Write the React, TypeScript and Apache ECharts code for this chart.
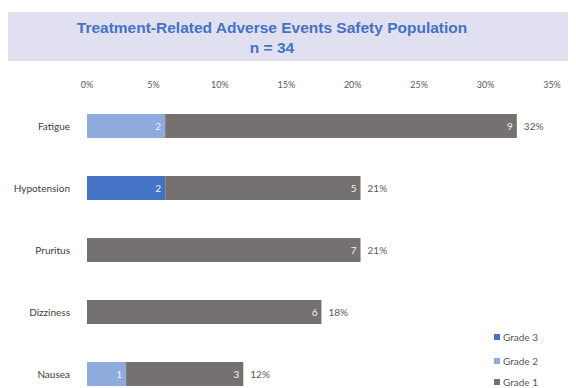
import React, { useEffect, useRef } from "react";
import * as echarts from "echarts";

const N = 34;
const categories = ["Fatigue", "Hypotension", "Pruritus", "Dizziness", "Nausea"];
const grade3Counts = [0, 2, 0, 0, 0];
const grade2Counts = [2, 0, 0, 0, 1];
const grade1Counts = [9, 5, 7, 6, 3];
const totalLabels = ["32%", "21%", "21%", "18%", "12%"];
const legendNames = ["Grade 3", "Grade 2", "Grade 1"];
const titleLines = ["Treatment-Related Adverse Events Safety Population", "n = 34"];

const pct = (c: number) => (c / N) * 100;

export default function App() {
  const ref = useRef<HTMLDivElement>(null);
  useEffect(() => {
    if (!ref.current) return;
    const chart = echarts.init(ref.current, undefined, { renderer: "svg" });
    const inner = (counts: number[]) => ({
      show: true,
      position: "insideRight",
      distance: 4,
      color: "#f2f2f2",
      fontFamily: "Lato",
      fontSize: 10,
      formatter: (p: any) => (counts[p.dataIndex] > 0 ? String(counts[p.dataIndex]) : ""),
    });
    const legendTops = [324, 348, 369];
    chart.setOption({
      animation: false,
      graphic: [
        { type: "rect", shape: { x: 0, y: 4, width: 568, height: 49 }, style: { fill: "#e1e0f1" }, silent: true },
        {
          type: "text",
          x: 264,
          y: 19,
          style: {
            text: titleLines[0],
            fill: "#4472c4",
            font: "bold 15.5px 'Liberation Sans'",
            textAlign: "center",
            textVerticalAlign: "middle",
          },
        },
        {
          type: "text",
          x: 264,
          y: 39,
          style: {
            text: titleLines[1],
            fill: "#4472c4",
            font: "bold 15.5px 'Liberation Sans'",
            textAlign: "center",
            textVerticalAlign: "middle",
          },
        },
      ],
      legend: legendNames.map((name, i) => ({
        orient: "vertical",
        left: 486,
        top: legendTops[i],
        padding: 0,
        itemWidth: 6,
        itemHeight: 6,
        icon: "rect",
        data: [name],
        textStyle: { color: "#595959", fontSize: 10, fontFamily: "Lato", padding: [0, 0, 0, -2] },
      })),
      grid: { left: 79, right: 24, top: 87, bottom: -17, outerBoundsMode: "none", containLabel: false },
      xAxis: {
        type: "value",
        position: "top",
        min: 0,
        max: 35,
        interval: 5,
        axisLine: { show: false },
        axisTick: { show: false },
        splitLine: { show: false },
        axisLabel: { formatter: "{value}%", color: "#595959", fontSize: 9, fontFamily: "Lato", margin: 6 },
      },
      yAxis: {
        type: "category",
        inverse: true,
        data: categories,
        axisLine: { show: false },
        axisTick: { show: false },
        axisLabel: { color: "#404040", fontSize: 10, fontFamily: "Lato", margin: 17 },
      },
      series: [
        {
          name: "Grade 3",
          type: "bar",
          stack: "t",
          barWidth: 24,
          itemStyle: { color: "#4472c4" },
          data: grade3Counts.map(pct),
          label: inner(grade3Counts),
        },
        {
          name: "Grade 2",
          type: "bar",
          stack: "t",
          barWidth: 24,
          itemStyle: { color: "#8faadc" },
          data: grade2Counts.map(pct),
          label: inner(grade2Counts),
        },
        {
          name: "Grade 1",
          type: "bar",
          stack: "t",
          barWidth: 24,
          itemStyle: { color: "#767171" },
          data: grade1Counts.map(pct),
          label: inner(grade1Counts),
        },
        {
          name: "Total",
          type: "bar",
          stack: "t",
          barWidth: 24,
          itemStyle: { color: "transparent" },
          data: categories.map(() => 0),
          label: {
            show: true,
            position: "right",
            distance: 7,
            color: "#595959",
            fontSize: 10,
            fontFamily: "Lato",
            formatter: (p: any) => totalLabels[p.dataIndex],
          },
        },
      ],
    });
    return () => chart.dispose();
  }, []);
  return <div ref={ref} style={{ width: 568, height: 380 }} />;
}
